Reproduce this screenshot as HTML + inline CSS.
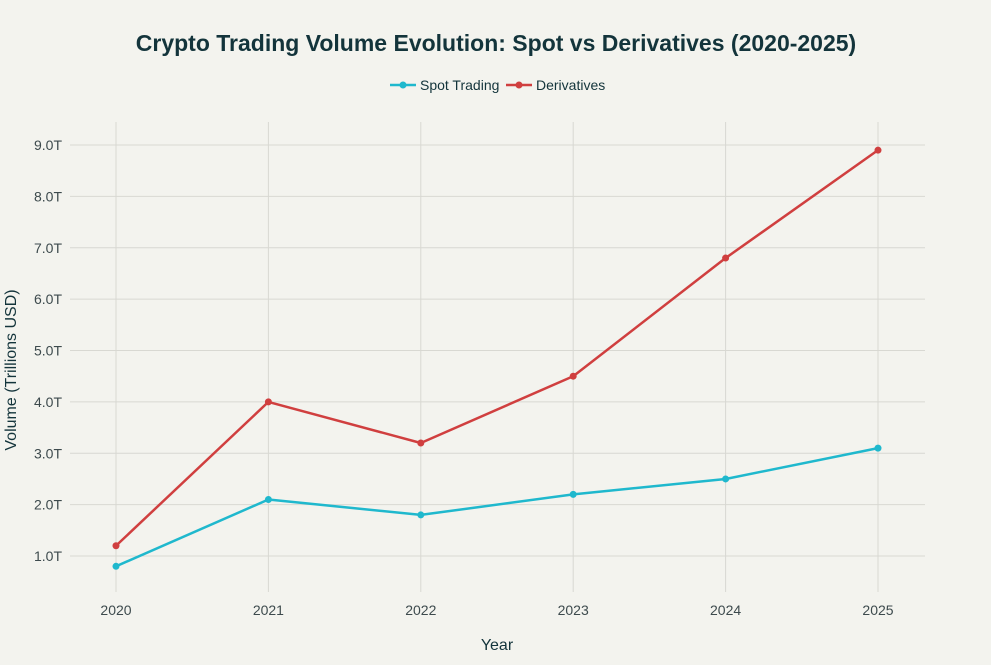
<!DOCTYPE html>
<html><head><meta charset="utf-8">
<style>
html,body{margin:0;padding:0;background:#f3f3ee;}
body{width:991px;height:660px;overflow:hidden;font-family:"Liberation Sans",sans-serif;}
text{font-family:"Liberation Sans",sans-serif;}
</style></head>
<body>
<svg id="chart" width="991" height="660" xmlns="http://www.w3.org/2000/svg">
<rect width="991" height="660" fill="#f3f3ee"/>
<text x="496" y="51" text-anchor="middle" font-size="23" font-weight="bold" fill="#13343b">Crypto Trading Volume Evolution: Spot vs Derivatives (2020-2025)</text>
<g>
<g>
<line x1="390" y1="85" x2="416" y2="85" stroke="#1fb8cd" stroke-width="2.5"/><circle cx="403" cy="85" r="3.5" fill="#1fb8cd"/>
<text x="420" y="90" font-size="14" fill="#13343b">Spot Trading</text></g>
<g>
<line x1="506" y1="85" x2="532" y2="85" stroke="#d03f3f" stroke-width="2.5"/><circle cx="519" cy="85" r="3.5" fill="#d03f3f"/>
<text x="536" y="90" font-size="14" fill="#13343b">Derivatives</text></g>
</g>
<g id="grid"></g><g id="axes"></g><g id="series"></g>
<text x="497" y="650" text-anchor="middle" font-size="16" fill="#13343b">Year</text>
<text transform="translate(16,370) rotate(-90)" text-anchor="middle" font-size="16" fill="#13343b">Volume (Trillions USD)</text>
</svg>
<script>
const years = [2020, 2021, 2022, 2023, 2024, 2025];
const spotValues = [0.8, 2.1, 1.8, 2.2, 2.5, 3.1];
const derivValues = [1.2, 4.0, 3.2, 4.5, 6.8, 8.9];
const yTicks = [1, 2, 3, 4, 5, 6, 7, 8, 9];
const yTickLabels = ["1.0T","2.0T","3.0T","4.0T","5.0T","6.0T","7.0T","8.0T","9.0T"];

const NS = "http://www.w3.org/2000/svg";
const xScale = i => 116 + i * (878 - 116) / (years.length - 1);
const yScale = v => 607.4 - v * 51.375;
function mk(tag, attrs, parent){const e=document.createElementNS(NS,tag);for(const k in attrs)e.setAttribute(k,attrs[k]);parent.appendChild(e);return e;}
const grid=document.getElementById('grid'), axes=document.getElementById('axes'), series=document.getElementById('series');
yTicks.forEach((t,i)=>{
  const g=mk('line',{x1:70,x2:925,y1:yScale(t),y2:yScale(t),stroke:'#d8d8d2','stroke-width':1},grid);
  
  
  const l=mk('text',{x:62,y:yScale(t)+5,'text-anchor':'end','font-size':14,fill:'#3d4a4d'},axes);
  l.textContent=yTickLabels[i];
  
  
});
years.forEach((y,i)=>{
  const g=mk('line',{x1:xScale(i),x2:xScale(i),y1:122,y2:592,stroke:'#d8d8d2','stroke-width':1},grid);
  
  
  const l=mk('text',{x:xScale(i),y:615,'text-anchor':'middle','font-size':14,fill:'#3d4a4d'},axes);
  l.textContent=y;
  
  
});
function drawSeries(vals,color,name){
  const p=mk('polyline',{points:vals.map((v,i)=>xScale(i)+','+yScale(v)).join(' '),fill:'none',stroke:color,'stroke-width':2.5,'stroke-linejoin':'round'},series);
  
  
  vals.forEach((v,i)=>{
    const c=mk('circle',{cx:xScale(i),cy:yScale(v),r:3.5,fill:color},series);
    
    
  });
}
drawSeries(spotValues,'#1fb8cd','spot');
drawSeries(derivValues,'#d03f3f','derivatives');
</script>
</body></html>
